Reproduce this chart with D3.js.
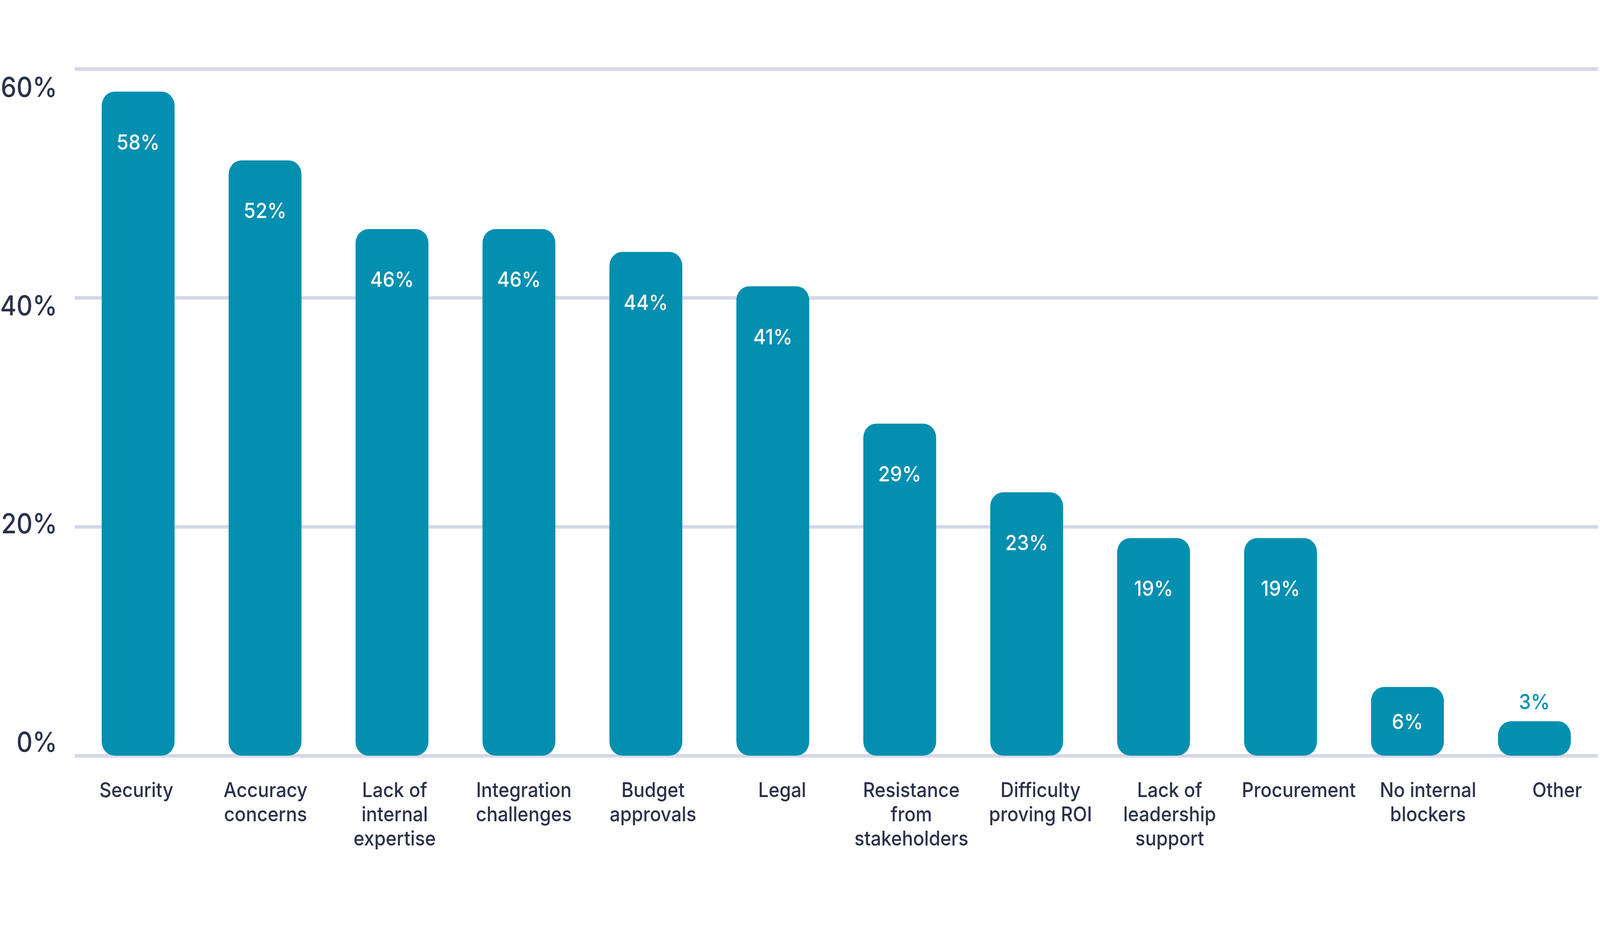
<!DOCTYPE html>
<meta charset="utf-8">
<script src="https://d3js.org/d3.v7.min.js"></script>
<style>
  body { margin: 0px; background: #fff; overflow: hidden; }
  svg { display: block; }
  text { font-family: Inter, "Noto Sans", sans-serif; font-weight: 500; }
  .grid line { stroke: #d5d7e6; stroke-width: 9; }
  .ylab text { fill: #2b3149; font-size: 70px; }
  .xlab text { fill: #2b3149; font-size: 52px; }
</style>
<div id="chart"></div>
<script>

// categories, split into the lines they are printed on
const categories = ["Security", "Accuracy concerns", "Lack of internal expertise",
  "Integration challenges", "Budget approvals", "Legal", "Resistance from stakeholders",
  "Difficulty proving ROI", "Lack of leadership support", "Procurement",
  "No internal blockers", "Other"];
const labelLines = [["Security"], ["Accuracy", "concerns"], ["Lack of", "internal", "expertise"],
  ["Integration", "challenges"], ["Budget", "approvals"], ["Legal"], ["Resistance", "from", "stakeholders"],
  ["Difficulty", "proving ROI"], ["Lack of", "leadership", "support"], ["Procurement"],
  ["No internal", "blockers"], ["Other"]];
const values = [58, 52, 46, 46, 44, 41, 29, 23, 19, 19, 6, 3];
const yTicks = [0, 20, 40, 60];

// the chart is laid out on a 4500 x 2370 canvas and stretched to the window
const W = 4500, H = 2370;
const left = 210, right = 4494;   // plot area edges (gridlines)
const barColor = "#038fb0";

const svg = d3.select("#chart").append("svg")
    .attr("width", window.innerWidth || W)
    .attr("height", window.innerHeight || H)
    .attr("viewBox", "0 0 " + W + " " + H)
    .attr("preserveAspectRatio", "none");

const y = d3.scaleLinear().domain([0, 60]).range([1934, 176]);
// tick labels sit a little inside the gridlines in the original
const yLab = d3.scaleLinear().domain([0, 60]).range([1901, 225]);

const x = d3.scaleBand().domain(categories).range([left, right])
    .paddingInner(0.426).paddingOuter(0.213);
const xLab = d3.scalePoint().domain(categories).range([383, 4379]);

// gridlines
svg.append("g")
    .attr("class", "grid")
    .attr("transform", "translate(" + left + ",0)")
    .call(d3.axisLeft(y).tickValues(yTicks).tickSize(-(right - left)).tickFormat(""))
    .call(g => g.select(".domain").remove());

// y tick labels
svg.append("g")
    .attr("class", "ylab")
    .attr("transform", "translate(161,0)")
    .call(d3.axisLeft(yLab).tickValues(yTicks).tickSize(0).tickPadding(0).tickFormat(d => d + "%"))
    .call(g => g.select(".domain").remove())
    .call(g => g.selectAll("text").attr("font-family", null).attr("font-size", null));

// bars
svg.selectAll("rect.bar")
    .data(values)
    .enter()
    .append("rect")
      .attr("class", "bar")
      .attr("x", (d, i) => x(categories[i]))
      .attr("y", d => y(d))
      .attr("width", x.bandwidth())
      .attr("height", d => y(0) - y(d))
      .attr("rx", 36)
      .attr("ry", 36)
      .style("fill", barColor);

// value labels: inside near the top, centred in short bars, above the tiny one
svg.selectAll("text.val")
    .data(values)
    .enter()
    .append("text")
      .attr("class", "val")
      .attr("x", (d, i) => x(categories[i]) + x.bandwidth() / 2)
      .attr("y", d => {
        const h = y(0) - y(d);
        if (h > 300) return y(d) + 148;
        if (h > 120) return y(d) + h / 2 + 20;
        return y(d) - 31;
      })
      .attr("text-anchor", "middle")
      .style("font-size", "54px")
      .style("fill", d => (y(0) - y(d) > 120 ? "#ffffff" : barColor))
      .text(d => d + "%");

// category labels
const xa = svg.append("g")
    .attr("class", "xlab")
    .attr("transform", "translate(0,2040)")
    .call(d3.axisBottom(xLab).tickSize(0).tickPadding(0))
    .call(g => g.select(".domain").remove());

xa.selectAll("text")
    .attr("font-family", null).attr("font-size", null)
    .attr("y", 0).attr("dy", null)
    .text(null)
    .each(function(d, i) {
      const t = d3.select(this);
      labelLines[categories.indexOf(d)].forEach((line, k) => {
        t.append("tspan").attr("x", 0).attr("y", k * 62).text(line);
      });
    });

</script>
